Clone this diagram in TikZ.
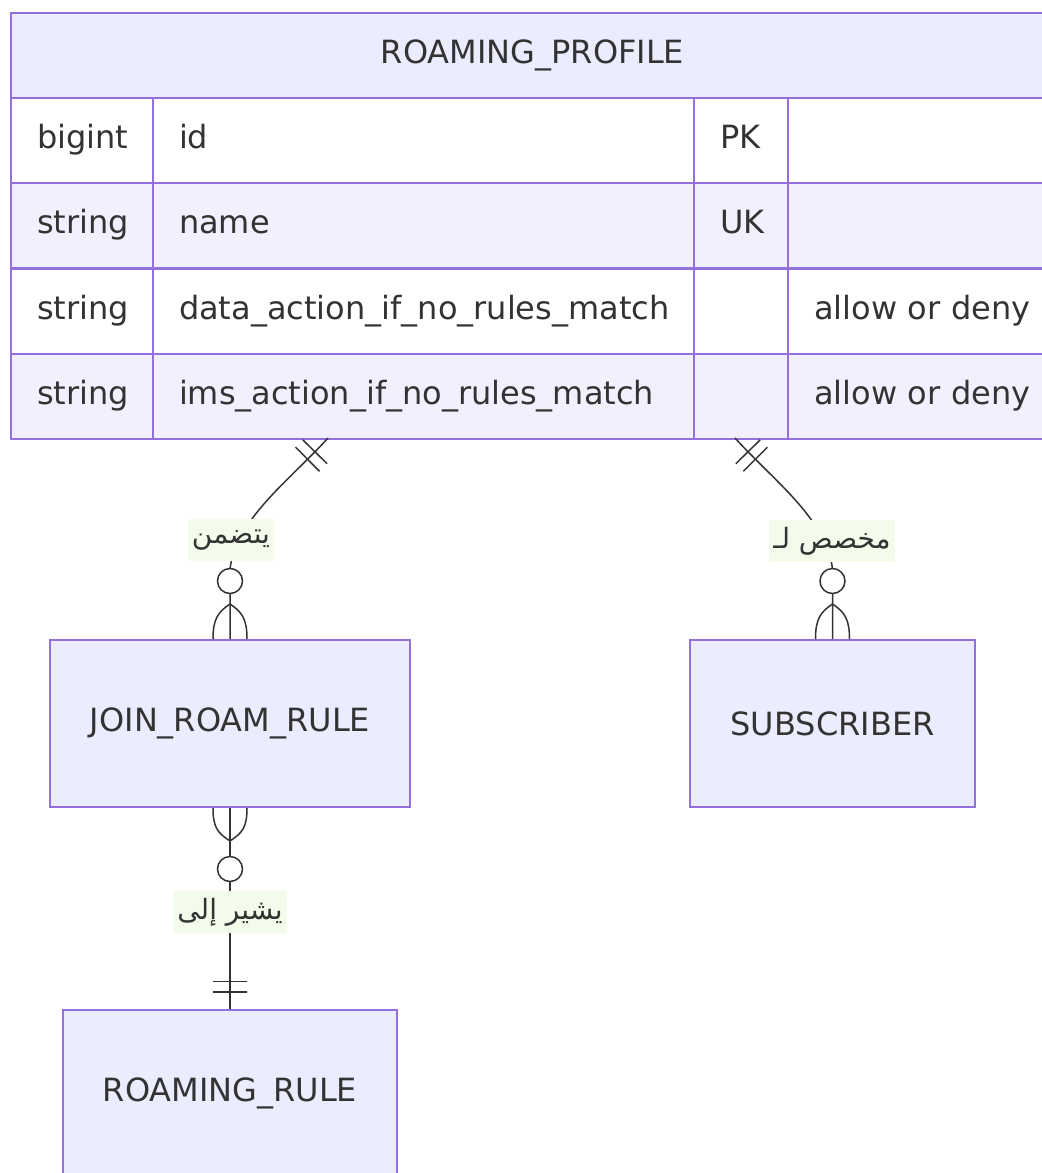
\documentclass[tikz,border=0pt]{standalone}
\usepackage{fontspec}
\setmainfont{DejaVu Sans}
\newfontfamily\arabicfont[Script=Arabic]{DejaVu Sans}
\TeXXeTstate=1
\usetikzlibrary{positioning,calc}
\definecolor{erline}{HTML}{9370DB}
\definecolor{erfill}{HTML}{ECECFF}
\definecolor{rowalt}{HTML}{F1F0FF}
\definecolor{ink}{HTML}{333333}
\definecolor{lblbg}{HTML}{F3FBEA}
\tikzset{
  ent/.style ={draw=erline, fill=erfill, line width=1pt, text=ink, inner sep=0pt, font=\fontsize{16}{19}\selectfont},
  hdr/.style ={ent, anchor=north west, minimum width=521.5pt, minimum height=42.5pt},
  cell/.style={draw=erline, line width=1pt, anchor=north west, minimum height=42.6pt, inner xsep=13pt, inner ysep=0pt,
               text height=11.5pt, text depth=3.5pt, align=left, text=ink, font=\fontsize{16}{19}\selectfont},
  rel/.style ={draw=ink, line width=0.75pt},
  bar/.style ={draw=ink, line width=0.75pt, rectangle, minimum width=0pt, minimum height=17pt, inner sep=0pt, outer sep=0pt},
  zero/.style={circle, draw=ink, fill=white, line width=0.75pt, minimum size=12.5pt, inner sep=0pt},
  rlabel/.style={fill=lblbg, text=ink, inner xsep=2pt, minimum height=21pt, font=\arabicfont\fontsize{14}{16}\selectfont},
}

\begin{document}
\begin{tikzpicture}[x=0.5pt, y=-0.5pt]
\useasboundingbox (0,0) rectangle (1042,1173);
\clip (0,0) rectangle (1042,1173);

% ROAMING_PROFILE table
\node[hdr] (rp) at (10,12) {ROAMING\_PROFILE};
\node[cell, fill=white, minimum width=71pt, text width=45pt] (r1type) at (10,97) {bigint};
\node[cell, fill=white, minimum width=270.5pt, text width=244.5pt] (r1name) at (152,97) {id};
\node[cell, fill=white, minimum width=47pt, text width=21pt] (r1key) at (693,97) {PK};
\node[cell, fill=white, minimum width=140pt, text width=114pt] (r1note) at (787,97) {};
\node[cell, fill=rowalt, minimum width=71pt, text width=45pt] (r2type) at (10,182.25) {string};
\node[cell, fill=rowalt, minimum width=270.5pt, text width=244.5pt] (r2name) at (152,182.25) {name};
\node[cell, fill=rowalt, minimum width=47pt, text width=21pt] (r2key) at (693,182.25) {UK};
\node[cell, fill=rowalt, minimum width=140pt, text width=114pt] (r2note) at (787,182.25) {};
\node[cell, fill=white, minimum width=71pt, text width=45pt] (r3type) at (10,267.5) {string};
\node[cell, fill=white, minimum width=270.5pt, text width=244.5pt] (r3name) at (152,267.5) {data\_action\_if\_no\_rules\_match};
\node[cell, fill=white, minimum width=47pt, text width=21pt] (r3key) at (693,267.5) {};
\node[cell, fill=white, minimum width=140pt, text width=114pt] (r3note) at (787,267.5) {allow or deny};
\node[cell, fill=rowalt, minimum width=71pt, text width=45pt] (r4type) at (10,352.75) {string};
\node[cell, fill=rowalt, minimum width=270.5pt, text width=244.5pt] (r4name) at (152,352.75) {ims\_action\_if\_no\_rules\_match};
\node[cell, fill=rowalt, minimum width=47pt, text width=21pt] (r4key) at (693,352.75) {};
\node[cell, fill=rowalt, minimum width=140pt, text width=114pt] (r4note) at (787,352.75) {allow or deny};
\coordinate (t1) at (328,438);
\coordinate (t2) at (735,438);

% other entities
\node[ent, minimum width=180pt, minimum height=83.5pt] (jrr) at (230,723.5) {JOIN\_ROAM\_RULE};
\node[ent, minimum width=142.5pt, minimum height=83.5pt] (sub) at (832.5,723.5) {SUBSCRIBER};
\node[ent, minimum width=167pt, minimum height=83.5pt] (rr) at (230,1093.5) {ROAMING\_RULE};

% ROAMING_PROFILE -> JOIN_ROAM_RULE
\draw[rel] (t1) .. controls +(-38,42) and +(6,-50) .. ($(jrr.north)+(0,-70)$)
  node[pos=0.11,sloped,bar]{} node[pos=0.17,sloped,bar]{} -- (jrr.north);
\draw[rel] ($(jrr.north)+(0,-35)$) .. controls +(-12,8) and +(0,-20) .. ($(jrr.north)+(-17,0)$);
\draw[rel] ($(jrr.north)+(0,-35)$) .. controls +(12,8) and +(0,-20) .. ($(jrr.north)+(17,0)$);
\node[zero] (c1) at ($(jrr.north)+(0,-58)$) {};
\node[rlabel] (l1) at (231,540) {\beginR يتضمن\endR};

% ROAMING_PROFILE -> SUBSCRIBER
\draw[rel] (t2) .. controls +(38,42) and +(-6,-50) .. ($(sub.north)+(0,-70)$)
  node[pos=0.11,sloped,bar]{} node[pos=0.17,sloped,bar]{} -- (sub.north);
\draw[rel] ($(sub.north)+(0,-35)$) .. controls +(-12,8) and +(0,-20) .. ($(sub.north)+(-17,0)$);
\draw[rel] ($(sub.north)+(0,-35)$) .. controls +(12,8) and +(0,-20) .. ($(sub.north)+(17,0)$);
\node[zero] (c2) at ($(sub.north)+(0,-58)$) {};
\node[rlabel] (l2) at (832,541) {\beginR مخصص لـ\endR};

% JOIN_ROAM_RULE -> ROAMING_RULE
\draw[rel] (jrr.south) -- (rr.north) node[pos=0.862,sloped,bar]{} node[pos=0.916,sloped,bar]{};
\draw[rel] ($(jrr.south)+(-17,0)$) .. controls +(0,20) and +(-12,-8) .. ($(jrr.south)+(0,33)$);
\draw[rel] ($(jrr.south)+(17,0)$) .. controls +(0,20) and +(12,-8) .. ($(jrr.south)+(0,33)$);
\node[zero] (c3) at ($(jrr.south)+(0,61)$) {};
\node[rlabel] (l3) at (230,912) {\beginR يشير إلى\endR};

\end{tikzpicture}
\end{document}
